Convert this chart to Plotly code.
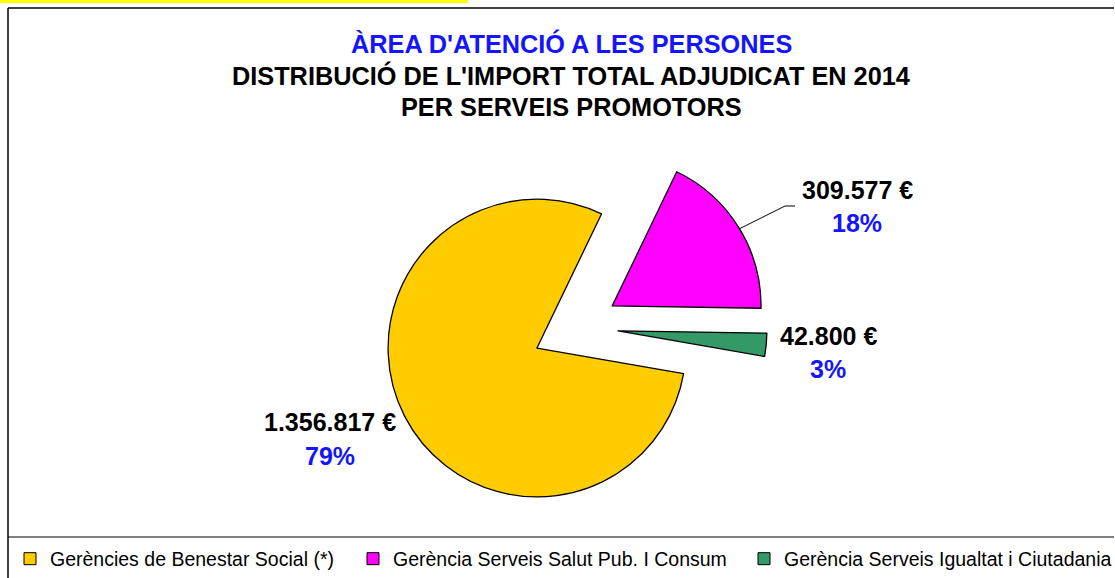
import plotly.graph_objects as go

W, H = 1115, 578

# dades
serveis = [
    "Gerències de Benestar Social (*)",
    "Gerència Serveis Salut Pub. I Consum",
    "Gerència Serveis Igualtat i Ciutadania",
]
imports = [1356817, 309577, 42800]
colors = ["#FFCC00", "#FF00FF", "#339966"]
pulls = [0.31, 0.27, 0.27]

titol = [
    ("ÀREA D'ATENCIÓ A LES PERSONES", "#1414FF"),
    ("DISTRIBUCIÓ DE L'IMPORT TOTAL ADJUDICAT EN 2014", "black"),
    ("PER SERVEIS PROMOTORS", "black"),
]

BLUE = "#1414FF"
FONT = "Liberation Sans, Arial"


def px(x):
    return x / W


def py(y):
    return 1 - y / H


# ordre dels sectors en sentit horari des de dalt: salut, igualtat, benestar
ordre = [1, 2, 0]

fig = go.Figure()

cx, cy, half = 578, 327, 195
fig.add_trace(go.Pie(
    labels=[serveis[i] for i in ordre],
    values=[imports[i] for i in ordre],
    marker=dict(colors=[colors[i] for i in ordre], line=dict(color="black", width=1.3)),
    pull=[pulls[i] for i in ordre],
    sort=False,
    direction="clockwise",
    rotation=25.7,
    textinfo="none",
    hoverinfo="none",
    showlegend=False,
    domain=dict(x=[px(cx - half), px(cx + half)], y=[py(cy + half), py(cy - half)]),
))

# llegenda amb traces buides, una llegenda per element
leg_x = [10, 353, 744]
for i, nom in enumerate(serveis):
    key = "legend" if i == 0 else f"legend{i + 1}"
    fig.add_trace(go.Scatter(
        x=[None], y=[None], mode="markers", name=nom,
        marker=dict(symbol="square", size=12, color=colors[i],
                    line=dict(color="black", width=1)),
        legend=key,
    ))
    fig.update_layout({key: dict(
        x=px(leg_x[i]), y=py(559), xanchor="left", yanchor="middle",
        orientation="h", bgcolor="rgba(0,0,0,0)",
        font=dict(family=FONT, size=19.5, color="black"),
    )})

# títol
anns = []
for (txt, col), y in zip(titol, [43, 75, 107]):
    anns.append(dict(
        text=f"<b>{txt}</b>", x=px(571), y=py(y), xref="paper", yref="paper",
        showarrow=False, xanchor="center", yanchor="middle",
        font=dict(family=FONT, size=25.3, color=col),
    ))

# etiquetes de dades
total = sum(imports)
label_pos = [(330, 422, 456), (857, 190, 223), (828, 336, 369)]
for v, (x, y1, y2) in zip(imports, label_pos):
    valor = f"{v:,}".replace(",", ".") + " €"
    pct = f"{round(v / total * 100)}%"
    anns.append(dict(
        text=f"<b>{valor}</b>", x=px(x), y=py(y1), xref="paper", yref="paper",
        showarrow=False, xanchor="center", yanchor="middle",
        font=dict(family=FONT, size=25, color="black"),
    ))
    anns.append(dict(
        text=f"<b>{pct}</b>", x=px(x), y=py(y2), xref="paper", yref="paper",
        showarrow=False, xanchor="center", yanchor="middle",
        font=dict(family=FONT, size=25, color=BLUE),
    ))

line = dict(color="black", width=1.5)
shapes = [
    # franja groga superior
    dict(type="rect", xref="paper", yref="paper", x0=0, x1=px(468), y0=py(3), y1=1,
         fillcolor="#FFFF00", line=dict(width=0)),
    # marc: vora superior i esquerra
    dict(type="line", xref="paper", yref="paper", x0=px(8), x1=px(1114), y0=py(8), y1=py(8), line=line),
    dict(type="line", xref="paper", yref="paper", x0=px(8), x1=px(8), y0=py(8), y1=0, line=line),
    # separador llegenda
    dict(type="line", xref="paper", yref="paper", x0=px(8), x1=px(1114), y0=py(537), y1=py(537),
         line=dict(color="black", width=1.2)),
    # línia guia
    dict(type="path", xref="paper", yref="paper",
         path=f"M {px(739)},{py(229)} L {px(785)},{py(206)} L {px(795)},{py(206)}",
         line=dict(color="black", width=1)),
]

fig.update_layout(
    width=W, height=H,
    margin=dict(l=0, r=0, t=0, b=0, autoexpand=False),
    paper_bgcolor="white", plot_bgcolor="white",
    xaxis=dict(visible=False), yaxis=dict(visible=False),
    annotations=anns, shapes=shapes,
)

fig.write_html(
    "out.html",
    config={"displayModeBar": False},
    post_script="document.body.style.margin='0';document.body.style.overflow='hidden';",
)
